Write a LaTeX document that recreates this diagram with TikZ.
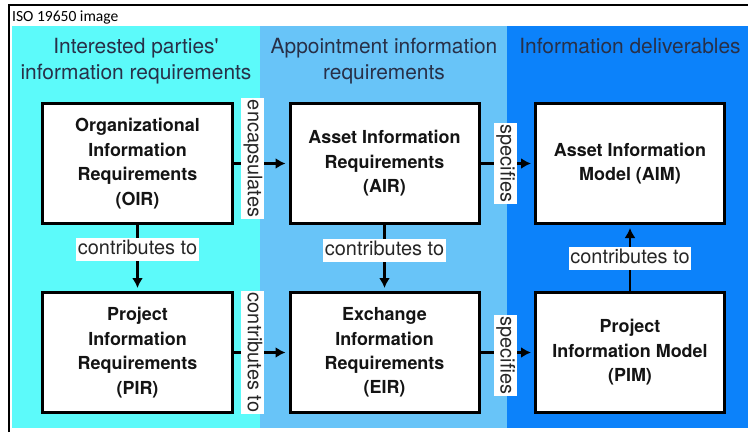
\documentclass[tikz,border=0pt]{standalone}
\usepackage{fontspec}
\setmainfont{TeX Gyre Heros}
\newfontfamily\capfont{Carlito}
\usetikzlibrary{positioning,arrows.meta,shadows}
\definecolor{PartyCyan}{RGB}{92,250,250}
\definecolor{ApptBlue}{RGB}{104,196,248}
\definecolor{DelivBlue}{RGB}{12,130,250}
\definecolor{HeadInk}{RGB}{40,48,72}
\tikzset{
  req/.style={draw=black,fill=white,line width=3bp,minimum width=189bp,minimum height=120bp,
    align=center,font=\fontsize{18}{24.5}\selectfont\bfseries,text=black!92,
    drop shadow={shadow xshift=1.2bp,shadow yshift=-1.2bp,fill=black,opacity=1}},
  head/.style={anchor=north,align=center,inner sep=0pt,text=HeadInk,
    font=\fontsize{21}{26}\selectfont},
  flow/.style={draw=black,line width=2.8bp,-{Latex[length=10bp,width=11bp]},shorten >=3bp},
  tag/.style={fill=white,inner xsep=1.5bp,inner ysep=2.5bp,text height=14bp,text depth=4bp,
    font=\fontsize{20}{24}\selectfont,text=black!85},
}
\begin{document}
\begin{tikzpicture}[x=1bp,y=1bp]
\useasboundingbox (0,0) rectangle (748,432);
\fill[white] (0,0) rectangle (748,432);
% three bands
\fill[PartyCyan] (12,4) rectangle (260,406);
\fill[ApptBlue] (260,4) rectangle (507,406);
\fill[DelivBlue] (507,4) rectangle (748,406);
\draw[line width=2bp] (9,0) -- (9,427) -- (748,427);
\node[anchor=west,inner sep=0pt,font=\capfont\fontsize{15.6}{18}\selectfont] (cap) at (12,415) {ISO 19650 image};
% band headings
\node[head] (hparty) at (136,394) {Interested parties\textquotesingle\\information requirements};
\node[head] (happt) at (384,394) {Appointment information\\requirements};
\node[head] (hdeliv) at (630,394) {Information deliverables};
\coordinate (c1) at (137.5,268.5);
\coordinate (c2) at (137.5,79.5);
\coordinate (c3) at (384.5,268.5);
\coordinate (c4) at (384.5,79.5);
\coordinate (c5) at (630,268.5);
\coordinate (c6) at (630,79.5);
\node[req] (oir) at (c1) {Organizational\\Information\\Requirements\\(OIR)};
\node[req] (pir) at (c2) {Project\\Information\\Requirements\\(PIR)};
\node[req] (air) at (c3) {Asset Information\\Requirements\\(AIR)};
\node[req] (eir) at (c4) {Exchange\\Information\\Requirements\\(EIR)};
\node[req] (aim) at (c5) {Asset Information\\Model (AIM)};
\node[req] (pim) at (c6) {Project\\Information Model\\(PIM)};
\draw[flow] (oir) -- node[tag,pos=0.35,yshift=5bp,rotate=-90] {encapsulates} (air);
\draw[flow] (air) -- node[tag,pos=0.47,rotate=-90] {specifies} (aim);
\draw[flow] (pir) -- node[tag,pos=0.35,rotate=-90] {contributes to} (eir);
\draw[flow] (eir) -- node[tag,pos=0.47,yshift=-3bp,rotate=-90] {specifies} (pim);
\draw[flow] (oir) -- node[tag,pos=0.37] {contributes to} (pir);
\draw[flow] (air) -- node[tag,pos=0.39] {contributes to} (eir);
\draw[flow] (pim) -- node[tag,pos=0.5] {contributes to} (aim);
\end{tikzpicture}
\end{document}
